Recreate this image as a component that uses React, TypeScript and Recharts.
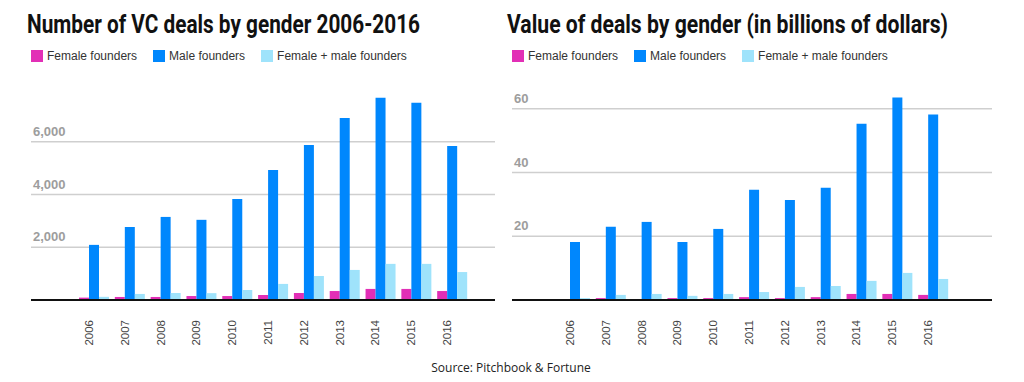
import { BarChart, Bar, XAxis, YAxis, CartesianGrid } from "recharts";

const years = ["2006", "2007", "2008", "2009", "2010", "2011", "2012", "2013", "2014", "2015", "2016"];

// number of deals
const dealsFemale = [90, 115, 115, 150, 150, 190, 265, 340, 420, 420, 340];
const dealsMale = [2090, 2770, 3150, 3040, 3830, 4930, 5880, 6900, 7670, 7480, 5840];
const dealsBoth = [120, 230, 265, 260, 380, 610, 910, 1140, 1370, 1370, 1060];

// value of deals, billions of dollars
const valueFemale = [0.3, 0.6, 0.3, 0.6, 0.6, 0.9, 0.6, 0.9, 1.9, 1.9, 1.6];
const valueMale = [18.2, 23.0, 24.5, 18.2, 22.3, 34.6, 31.4, 35.2, 55.3, 63.5, 58.2];
const valueBoth = [0.6, 1.6, 1.9, 1.3, 1.9, 2.5, 4.1, 4.4, 6.0, 8.5, 6.6];

const dealTicks = [2000, 4000, 6000];
const valueTicks = [20, 40, 60];

const seriesNames = ["Female founders", "Male founders", "Female + male founders"];
const colors = ["#e22fb6", "#0087fd", "#9fe3fb"];

const dealsData = years.map((year, i) => ({
  year,
  female: dealsFemale[i],
  male: dealsMale[i],
  both: dealsBoth[i],
}));

const valueData = years.map((year, i) => ({
  year,
  female: valueFemale[i],
  male: valueMale[i],
  both: valueBoth[i],
}));

const sans = "'Liberation Sans', Arial, sans-serif";
const narrow = "'Liberation Sans Narrow', 'Arial Narrow', Roboto, sans-serif";

function LegendRow({ left }: { left: number }) {
  return (
    <div
      style={{
        position: "absolute",
        left,
        top: 50,
        display: "flex",
        alignItems: "center",
        fontFamily: sans,
        fontSize: 12,
        lineHeight: "12px",
        color: "#333",
        whiteSpace: "nowrap",
      }}
    >
      {seriesNames.map((name, i) => (
        <div key={name} style={{ display: "flex", alignItems: "center", marginRight: 16 }}>
          <span style={{ width: 12, height: 12, background: colors[i], display: "inline-block", marginRight: 4 }} />
          <span>{name}</span>
        </div>
      ))}
    </div>
  );
}

function makeYTick(labelX: number) {
  return function YTick({ y, payload }: any) {
    return (
      <text x={labelX} y={y - 6} fill="#9d9d9d" fontSize={13} fontWeight="bold" fontFamily={sans} textAnchor="start">
        {Number(payload.value).toLocaleString("en-US")}
      </text>
    );
  };
}

function XTick({ x, payload }: any) {
  const ty = 320;
  return (
    <text
      x={x - 1}
      y={ty}
      transform={`rotate(-90 ${x - 1} ${ty})`}
      textAnchor="end"
      fill="#444"
      fontSize={11.5}
      fontFamily={sans}
    >
      {payload.value}
    </text>
  );
}

interface PanelProps {
  width: number;
  data: any[];
  ticks: number[];
  domain: [number, number];
  margin: { top: number; right: number; bottom: number; left: number };
  padding: { left: number; right: number };
  labelX: number;
}

function Panel({ width, data, ticks, domain, margin, padding, labelX }: PanelProps) {
  return (
    <BarChart width={width} height={382} data={data} margin={margin} barSize={10} barGap={0}>
      <CartesianGrid vertical={false} syncWithTicks stroke="#cfcfcf" strokeWidth={1.5} />
      <XAxis
        dataKey="year"
        interval={0}
        padding={padding}
        height={82}
        tickLine={false}
        axisLine={{ stroke: "#111", strokeWidth: 2 }}
        tick={<XTick />}
      />
      <YAxis
        width={30}
        domain={domain}
        ticks={ticks}
        interval={0}
        allowDataOverflow
        axisLine={false}
        tickLine={false}
        tick={makeYTick(labelX)}
      />
      <Bar dataKey="female" name={seriesNames[0]} fill={colors[0]} isAnimationActive={false} />
      <Bar dataKey="male" name={seriesNames[1]} fill={colors[1]} isAnimationActive={false} />
      <Bar dataKey="both" name={seriesNames[2]} fill={colors[2]} isAnimationActive={false} />
    </BarChart>
  );
}

export default function App() {
  return (
    <div style={{ position: "absolute", left: 0, top: 0, width: 1024, height: 382, background: "#fff", overflow: "hidden" }}>
      <div style={{ position: "absolute", left: 0, top: 0 }}>
        <Panel
          width={512}
          data={dealsData}
          ticks={dealTicks}
          domain={[0, 8000]}
          margin={{ top: 89, right: 17, bottom: 0, left: 1 }}
          padding={{ left: 45, right: 25 }}
          labelX={33}
        />
      </div>
      <div style={{ position: "absolute", left: 482, top: 0 }}>
        <Panel
          width={542}
          data={valueData}
          ticks={valueTicks}
          domain={[0, 64]}
          margin={{ top: 96, right: 32, bottom: 0, left: 0 }}
          padding={{ left: 45, right: 41 }}
          labelX={32}
        />
      </div>
      <LegendRow left={31} />
      <LegendRow left={512} />
      <svg width={1024} height={382} style={{ position: "absolute", left: 0, top: 0, pointerEvents: "none" }}>
        <text x={27} y={33} fontSize={25} fontWeight="bold" fontFamily={narrow} fill="#111" textLength={393} lengthAdjust="spacingAndGlyphs">
          Number of VC deals by gender 2006-2016
        </text>
        <text x={507} y={33} fontSize={25} fontWeight="bold" fontFamily={narrow} fill="#111" textLength={441} lengthAdjust="spacingAndGlyphs">
          Value of deals by gender (in billions of dollars)
        </text>
        <text x={511} y={372} fontSize={12} fontFamily="'Open Sans', sans-serif" fill="#222" textAnchor="middle">
          Source: Pitchbook &amp; Fortune
        </text>
      </svg>
    </div>
  );
}
